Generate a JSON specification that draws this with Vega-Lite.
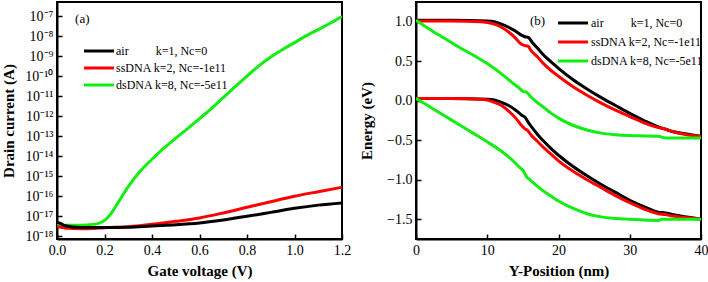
{
  "$schema": "https://vega.github.io/schema/vega-lite/v6.json",
  "padding": {"left": 0, "top": 1, "right": 5, "bottom": 2},
  "spacing": 74,
  "bounds": "flush",
  "resolve": {"scale": {"x": "independent", "y": "independent", "color": "independent"}, "legend": {"color": "independent"}},
  "datasets": {
    "iv": [
      {"V": 0, "I": 3.55e-18, "s": "dsDNA"}, {"V": 0.05, "I": 3.55e-18, "s": "dsDNA"}, {"V": 0.1, "I": 3.6e-18, "s": "dsDNA"},
      {"V": 0.15, "I": 3.98e-18, "s": "dsDNA"}, {"V": 0.175, "I": 4.47e-18, "s": "dsDNA"}, {"V": 0.2, "I": 6.31e-18, "s": "dsDNA"},
      {"V": 0.225, "I": 1.26e-17, "s": "dsDNA"}, {"V": 0.25, "I": 3.55e-17, "s": "dsDNA"}, {"V": 0.275, "I": 1.07e-16, "s": "dsDNA"},
      {"V": 0.3, "I": 3.02e-16, "s": "dsDNA"}, {"V": 0.35, "I": 1.78e-15, "s": "dsDNA"}, {"V": 0.4, "I": 7.08e-15, "s": "dsDNA"},
      {"V": 0.45, "I": 2.51e-14, "s": "dsDNA"}, {"V": 0.5, "I": 7.94e-14, "s": "dsDNA"}, {"V": 0.55, "I": 2.4e-13, "s": "dsDNA"},
      {"V": 0.6, "I": 7.59e-13, "s": "dsDNA"}, {"V": 0.65, "I": 2.4e-12, "s": "dsDNA"}, {"V": 0.7, "I": 8.51e-12, "s": "dsDNA"},
      {"V": 0.75, "I": 2.95e-11, "s": "dsDNA"}, {"V": 0.8, "I": 1.0e-10, "s": "dsDNA"}, {"V": 0.85, "I": 3.24e-10, "s": "dsDNA"},
      {"V": 0.9, "I": 8.91e-10, "s": "dsDNA"}, {"V": 0.95, "I": 2.14e-9, "s": "dsDNA"}, {"V": 1.0, "I": 4.68e-9, "s": "dsDNA"},
      {"V": 1.05, "I": 1.05e-8, "s": "dsDNA"}, {"V": 1.1, "I": 2.09e-8, "s": "dsDNA"}, {"V": 1.15, "I": 4.37e-8, "s": "dsDNA"},
      {"V": 1.2, "I": 9.55e-8, "s": "dsDNA"},
      {"V": 0, "I": 3.16e-18, "s": "ssDNA"}, {"V": 0.05, "I": 2.51e-18, "s": "ssDNA"}, {"V": 0.1, "I": 2.4e-18, "s": "ssDNA"},
      {"V": 0.15, "I": 2.45e-18, "s": "ssDNA"}, {"V": 0.2, "I": 2.69e-18, "s": "ssDNA"}, {"V": 0.3, "I": 3.02e-18, "s": "ssDNA"},
      {"V": 0.4, "I": 3.98e-18, "s": "ssDNA"}, {"V": 0.5, "I": 5.62e-18, "s": "ssDNA"}, {"V": 0.6, "I": 8.32e-18, "s": "ssDNA"},
      {"V": 0.7, "I": 1.48e-17, "s": "ssDNA"}, {"V": 0.8, "I": 2.82e-17, "s": "ssDNA"}, {"V": 0.9, "I": 5.37e-17, "s": "ssDNA"},
      {"V": 1.0, "I": 1e-16, "s": "ssDNA"}, {"V": 1.1, "I": 1.7e-16, "s": "ssDNA"}, {"V": 1.2, "I": 2.82e-16, "s": "ssDNA"},
      {"V": 0, "I": 5.0e-18, "s": "air"}, {"V": 0.015, "I": 4.5e-18, "s": "air"}, {"V": 0.03, "I": 3.5e-18, "s": "air"},
      {"V": 0.1, "I": 2.75e-18, "s": "air"}, {"V": 0.2, "I": 2.75e-18, "s": "air"}, {"V": 0.3, "I": 2.82e-18, "s": "air"},
      {"V": 0.4, "I": 3.31e-18, "s": "air"}, {"V": 0.5, "I": 3.8e-18, "s": "air"}, {"V": 0.6, "I": 4.68e-18, "s": "air"},
      {"V": 0.7, "I": 6.61e-18, "s": "air"}, {"V": 0.8, "I": 1e-17, "s": "air"}, {"V": 0.9, "I": 1.58e-17, "s": "air"},
      {"V": 1.0, "I": 2.51e-17, "s": "air"}, {"V": 1.1, "I": 3.63e-17, "s": "air"}, {"V": 1.2, "I": 4.68e-17, "s": "air"}
    ],
    "band": [
      {"Y": 0, "E": 1.02, "s": "air", "b": "CB"}, {"Y": 5, "E": 1.02, "s": "air", "b": "CB"}, {"Y": 10, "E": 1.01, "s": "air", "b": "CB"},
      {"Y": 11, "E": 1.0, "s": "air", "b": "CB"}, {"Y": 12, "E": 0.97, "s": "air", "b": "CB"}, {"Y": 13, "E": 0.93, "s": "air", "b": "CB"},
      {"Y": 14, "E": 0.88, "s": "air", "b": "CB"}, {"Y": 14.8, "E": 0.83, "s": "air", "b": "CB"}, {"Y": 15.3, "E": 0.81, "s": "air", "b": "CB"},
      {"Y": 15.8, "E": 0.8, "s": "air", "b": "CB"}, {"Y": 16.3, "E": 0.74, "s": "air", "b": "CB"}, {"Y": 17, "E": 0.67, "s": "air", "b": "CB"},
      {"Y": 18, "E": 0.57, "s": "air", "b": "CB"}, {"Y": 19, "E": 0.49, "s": "air", "b": "CB"}, {"Y": 20, "E": 0.41, "s": "air", "b": "CB"},
      {"Y": 22, "E": 0.27, "s": "air", "b": "CB"}, {"Y": 24, "E": 0.15, "s": "air", "b": "CB"}, {"Y": 26, "E": 0.04, "s": "air", "b": "CB"},
      {"Y": 28, "E": -0.06, "s": "air", "b": "CB"}, {"Y": 30, "E": -0.16, "s": "air", "b": "CB"}, {"Y": 32, "E": -0.25, "s": "air", "b": "CB"},
      {"Y": 34, "E": -0.33, "s": "air", "b": "CB"}, {"Y": 35, "E": -0.36, "s": "air", "b": "CB"}, {"Y": 36, "E": -0.39, "s": "air", "b": "CB"},
      {"Y": 38, "E": -0.42, "s": "air", "b": "CB"}, {"Y": 40, "E": -0.45, "s": "air", "b": "CB"},
      {"Y": 0, "E": 0.03, "s": "air", "b": "VB"}, {"Y": 5, "E": 0.03, "s": "air", "b": "VB"}, {"Y": 10, "E": 0.02, "s": "air", "b": "VB"},
      {"Y": 11, "E": 0.01, "s": "air", "b": "VB"}, {"Y": 12, "E": -0.02, "s": "air", "b": "VB"}, {"Y": 13, "E": -0.06, "s": "air", "b": "VB"},
      {"Y": 14, "E": -0.12, "s": "air", "b": "VB"}, {"Y": 14.8, "E": -0.18, "s": "air", "b": "VB"}, {"Y": 15.3, "E": -0.21, "s": "air", "b": "VB"},
      {"Y": 15.8, "E": -0.28, "s": "air", "b": "VB"}, {"Y": 16.3, "E": -0.34, "s": "air", "b": "VB"}, {"Y": 17, "E": -0.42, "s": "air", "b": "VB"},
      {"Y": 18, "E": -0.52, "s": "air", "b": "VB"}, {"Y": 19, "E": -0.61, "s": "air", "b": "VB"}, {"Y": 20, "E": -0.69, "s": "air", "b": "VB"},
      {"Y": 22, "E": -0.83, "s": "air", "b": "VB"}, {"Y": 24, "E": -0.95, "s": "air", "b": "VB"}, {"Y": 26, "E": -1.06, "s": "air", "b": "VB"},
      {"Y": 28, "E": -1.16, "s": "air", "b": "VB"}, {"Y": 30, "E": -1.26, "s": "air", "b": "VB"}, {"Y": 32, "E": -1.34, "s": "air", "b": "VB"},
      {"Y": 34, "E": -1.41, "s": "air", "b": "VB"}, {"Y": 35, "E": -1.42, "s": "air", "b": "VB"}, {"Y": 36, "E": -1.44, "s": "air", "b": "VB"},
      {"Y": 38, "E": -1.47, "s": "air", "b": "VB"}, {"Y": 40, "E": -1.5, "s": "air", "b": "VB"},
      {"Y": 0, "E": 1.01, "s": "ssDNA", "b": "CB"}, {"Y": 5, "E": 1.01, "s": "ssDNA", "b": "CB"}, {"Y": 9, "E": 1.0, "s": "ssDNA", "b": "CB"},
      {"Y": 10, "E": 0.99, "s": "ssDNA", "b": "CB"}, {"Y": 11, "E": 0.97, "s": "ssDNA", "b": "CB"}, {"Y": 12, "E": 0.93, "s": "ssDNA", "b": "CB"},
      {"Y": 13, "E": 0.87, "s": "ssDNA", "b": "CB"}, {"Y": 14, "E": 0.79, "s": "ssDNA", "b": "CB"}, {"Y": 14.6, "E": 0.73, "s": "ssDNA", "b": "CB"},
      {"Y": 15.2, "E": 0.7, "s": "ssDNA", "b": "CB"}, {"Y": 15.7, "E": 0.69, "s": "ssDNA", "b": "CB"}, {"Y": 16.2, "E": 0.63, "s": "ssDNA", "b": "CB"},
      {"Y": 17, "E": 0.56, "s": "ssDNA", "b": "CB"}, {"Y": 18, "E": 0.46, "s": "ssDNA", "b": "CB"}, {"Y": 19, "E": 0.38, "s": "ssDNA", "b": "CB"},
      {"Y": 20, "E": 0.31, "s": "ssDNA", "b": "CB"}, {"Y": 22, "E": 0.18, "s": "ssDNA", "b": "CB"}, {"Y": 24, "E": 0.07, "s": "ssDNA", "b": "CB"},
      {"Y": 26, "E": -0.03, "s": "ssDNA", "b": "CB"}, {"Y": 28, "E": -0.12, "s": "ssDNA", "b": "CB"}, {"Y": 30, "E": -0.2, "s": "ssDNA", "b": "CB"},
      {"Y": 32, "E": -0.28, "s": "ssDNA", "b": "CB"}, {"Y": 34, "E": -0.34, "s": "ssDNA", "b": "CB"}, {"Y": 35, "E": -0.36, "s": "ssDNA", "b": "CB"},
      {"Y": 36, "E": -0.39, "s": "ssDNA", "b": "CB"}, {"Y": 38, "E": -0.43, "s": "ssDNA", "b": "CB"}, {"Y": 40, "E": -0.45, "s": "ssDNA", "b": "CB"},
      {"Y": 0, "E": 0.03, "s": "ssDNA", "b": "VB"}, {"Y": 5, "E": 0.03, "s": "ssDNA", "b": "VB"}, {"Y": 9, "E": 0.02, "s": "ssDNA", "b": "VB"},
      {"Y": 10, "E": 0.01, "s": "ssDNA", "b": "VB"}, {"Y": 11, "E": -0.02, "s": "ssDNA", "b": "VB"}, {"Y": 12, "E": -0.06, "s": "ssDNA", "b": "VB"},
      {"Y": 13, "E": -0.13, "s": "ssDNA", "b": "VB"}, {"Y": 14, "E": -0.22, "s": "ssDNA", "b": "VB"}, {"Y": 14.6, "E": -0.29, "s": "ssDNA", "b": "VB"},
      {"Y": 15.2, "E": -0.35, "s": "ssDNA", "b": "VB"}, {"Y": 15.7, "E": -0.38, "s": "ssDNA", "b": "VB"}, {"Y": 16.2, "E": -0.44, "s": "ssDNA", "b": "VB"},
      {"Y": 17, "E": -0.51, "s": "ssDNA", "b": "VB"}, {"Y": 18, "E": -0.6, "s": "ssDNA", "b": "VB"}, {"Y": 19, "E": -0.68, "s": "ssDNA", "b": "VB"},
      {"Y": 20, "E": -0.76, "s": "ssDNA", "b": "VB"}, {"Y": 22, "E": -0.89, "s": "ssDNA", "b": "VB"}, {"Y": 24, "E": -1.0, "s": "ssDNA", "b": "VB"},
      {"Y": 26, "E": -1.1, "s": "ssDNA", "b": "VB"}, {"Y": 28, "E": -1.2, "s": "ssDNA", "b": "VB"}, {"Y": 30, "E": -1.29, "s": "ssDNA", "b": "VB"},
      {"Y": 32, "E": -1.37, "s": "ssDNA", "b": "VB"}, {"Y": 34, "E": -1.43, "s": "ssDNA", "b": "VB"}, {"Y": 35, "E": -1.44, "s": "ssDNA", "b": "VB"},
      {"Y": 36, "E": -1.46, "s": "ssDNA", "b": "VB"}, {"Y": 38, "E": -1.48, "s": "ssDNA", "b": "VB"}, {"Y": 40, "E": -1.5, "s": "ssDNA", "b": "VB"},
      {"Y": 0, "E": 1.02, "s": "dsDNA", "b": "CB"}, {"Y": 2, "E": 0.9, "s": "dsDNA", "b": "CB"}, {"Y": 4, "E": 0.79, "s": "dsDNA", "b": "CB"},
      {"Y": 6, "E": 0.68, "s": "dsDNA", "b": "CB"}, {"Y": 8, "E": 0.58, "s": "dsDNA", "b": "CB"}, {"Y": 10, "E": 0.47, "s": "dsDNA", "b": "CB"},
      {"Y": 12, "E": 0.34, "s": "dsDNA", "b": "CB"}, {"Y": 13.5, "E": 0.23, "s": "dsDNA", "b": "CB"}, {"Y": 14.5, "E": 0.16, "s": "dsDNA", "b": "CB"},
      {"Y": 15, "E": 0.12, "s": "dsDNA", "b": "CB"}, {"Y": 15.5, "E": 0.11, "s": "dsDNA", "b": "CB"}, {"Y": 16, "E": 0.06, "s": "dsDNA", "b": "CB"},
      {"Y": 17, "E": -0.02, "s": "dsDNA", "b": "CB"}, {"Y": 18, "E": -0.09, "s": "dsDNA", "b": "CB"}, {"Y": 19, "E": -0.16, "s": "dsDNA", "b": "CB"},
      {"Y": 20, "E": -0.22, "s": "dsDNA", "b": "CB"}, {"Y": 22, "E": -0.31, "s": "dsDNA", "b": "CB"}, {"Y": 24, "E": -0.37, "s": "dsDNA", "b": "CB"},
      {"Y": 26, "E": -0.41, "s": "dsDNA", "b": "CB"}, {"Y": 28, "E": -0.43, "s": "dsDNA", "b": "CB"}, {"Y": 30, "E": -0.44, "s": "dsDNA", "b": "CB"},
      {"Y": 32, "E": -0.445, "s": "dsDNA", "b": "CB"}, {"Y": 34, "E": -0.45, "s": "dsDNA", "b": "CB"}, {"Y": 35, "E": -0.47, "s": "dsDNA", "b": "CB"},
      {"Y": 36, "E": -0.47, "s": "dsDNA", "b": "CB"}, {"Y": 38, "E": -0.47, "s": "dsDNA", "b": "CB"}, {"Y": 40, "E": -0.47, "s": "dsDNA", "b": "CB"},
      {"Y": 0, "E": 0.03, "s": "dsDNA", "b": "VB"}, {"Y": 2, "E": -0.08, "s": "dsDNA", "b": "VB"}, {"Y": 4, "E": -0.19, "s": "dsDNA", "b": "VB"},
      {"Y": 6, "E": -0.3, "s": "dsDNA", "b": "VB"}, {"Y": 8, "E": -0.41, "s": "dsDNA", "b": "VB"}, {"Y": 10, "E": -0.52, "s": "dsDNA", "b": "VB"},
      {"Y": 12, "E": -0.64, "s": "dsDNA", "b": "VB"}, {"Y": 13.5, "E": -0.75, "s": "dsDNA", "b": "VB"}, {"Y": 14.5, "E": -0.84, "s": "dsDNA", "b": "VB"},
      {"Y": 15, "E": -0.88, "s": "dsDNA", "b": "VB"}, {"Y": 15.5, "E": -0.96, "s": "dsDNA", "b": "VB"}, {"Y": 16, "E": -1.0, "s": "dsDNA", "b": "VB"},
      {"Y": 17, "E": -1.08, "s": "dsDNA", "b": "VB"}, {"Y": 18, "E": -1.15, "s": "dsDNA", "b": "VB"}, {"Y": 19, "E": -1.21, "s": "dsDNA", "b": "VB"},
      {"Y": 20, "E": -1.27, "s": "dsDNA", "b": "VB"}, {"Y": 22, "E": -1.36, "s": "dsDNA", "b": "VB"}, {"Y": 24, "E": -1.43, "s": "dsDNA", "b": "VB"},
      {"Y": 26, "E": -1.47, "s": "dsDNA", "b": "VB"}, {"Y": 28, "E": -1.49, "s": "dsDNA", "b": "VB"}, {"Y": 30, "E": -1.5, "s": "dsDNA", "b": "VB"},
      {"Y": 32, "E": -1.51, "s": "dsDNA", "b": "VB"}, {"Y": 34, "E": -1.515, "s": "dsDNA", "b": "VB"}, {"Y": 34.5, "E": -1.5, "s": "dsDNA", "b": "VB"},
      {"Y": 36, "E": -1.5, "s": "dsDNA", "b": "VB"}, {"Y": 38, "E": -1.5, "s": "dsDNA", "b": "VB"}, {"Y": 40, "E": -1.5, "s": "dsDNA", "b": "VB"}
    ]
  },
  "hconcat": [
    {
      "width": 285,
      "height": 237,
      "layer": [
        {
          "data": {"name": "iv"},
          "mark": {"type": "line", "strokeWidth": 3, "interpolate": "monotone", "clip": true},
          "encoding": {
            "x": {"field": "V", "type": "quantitative", "scale": {"domain": [0, 1.2], "nice": false},
              "axis": {"title": "Gate voltage (V)", "values": [0, 0.2, 0.4, 0.6, 0.8, 1.0, 1.2], "format": ".1f"}},
            "y": {"field": "I", "type": "quantitative", "scale": {"type": "log", "domain": [7.4e-19, 5e-7], "nice": false},
              "axis": {"title": "Drain current (A)", "titlePadding": 8, "values": [1e-18, 1e-17, 1e-16, 1e-15, 1e-14, 1e-13, 1e-12, 1e-11, 1e-10, 1e-9, 1e-8, 1e-7],
                "labelExpr": "'10⁻' + (round(-log(datum.value)/LN10) >= 10 ? '¹' : '') + ['⁰','¹','²','³','⁴','⁵','⁶','⁷','⁸','⁹'][round(-log(datum.value)/LN10) % 10]"}},
            "color": {"field": "s", "type": "nominal",
              "scale": {"domain": ["air", "ssDNA", "dsDNA"], "range": ["#000000", "#ff0000", "#11ee11"]},
              "legend": {"orient": "none", "legendX": 33, "legendY": 40, "title": null, "symbolType": "M-2,0H2", "symbolSize": 225,
                "symbolStrokeWidth": 3, "labelOffset": 8, "rowPadding": 2,
                "labelExpr": "datum.label == 'air' ? 'air\u00a0\u00a0\u00a0\u00a0\u00a0\u00a0\u00a0\u00a0\u00a0k=1, Nc=0' : datum.label == 'ssDNA' ? 'ssDNA k=2, Nc=-1e11' : 'dsDNA k=8, Nc=-5e11'"}}
          }
        },
        {
          "data": {"values": [{}]},
          "mark": {"type": "text", "align": "left", "baseline": "middle", "font": "Liberation Serif", "fontSize": 13, "color": "black"},
          "encoding": {"x": {"datum": 0.076}, "y": {"datum": 7.1e-8}, "text": {"value": "(a)"}}
        }
      ]
    },
    {
      "width": 285,
      "height": 237,
      "layer": [
        {
          "data": {"name": "band"},
          "mark": {"type": "line", "strokeWidth": 3, "interpolate": "monotone", "clip": true},
          "encoding": {
            "x": {"field": "Y", "type": "quantitative", "scale": {"domain": [0, 40], "nice": false},
              "axis": {"title": "Y-Position (nm)", "values": [0, 10, 20, 30, 40]}},
            "y": {"field": "E", "type": "quantitative", "scale": {"domain": [-1.75, 1.25], "nice": false},
              "axis": {"title": "Energy (eV)", "titlePadding": 12, "values": [-1.5, -1.0, -0.5, 0.0, 0.5, 1.0], "format": ".1f"}},
            "detail": {"field": "b"},
            "color": {"field": "s", "type": "nominal",
              "scale": {"domain": ["air", "ssDNA", "dsDNA"], "range": ["#000000", "#ff0000", "#11ee11"]},
              "legend": {"orient": "none", "legendX": 148, "legendY": 12, "title": null, "symbolType": "M-2,0H2", "symbolSize": 225,
                "symbolStrokeWidth": 3, "labelOffset": 9, "rowPadding": 4,
                "labelExpr": "datum.label == 'air' ? 'air\u00a0\u00a0\u00a0\u00a0\u00a0\u00a0\u00a0\u00a0\u00a0k=1, Nc=0' : datum.label == 'ssDNA' ? 'ssDNA k=2, Nc=-1e11' : 'dsDNA k=8, Nc=-5e11'"}}
          }
        },
        {
          "data": {"values": [{}]},
          "mark": {"type": "text", "align": "left", "baseline": "middle", "font": "Liberation Serif", "fontSize": 13, "color": "black"},
          "encoding": {"x": {"datum": 16.0}, "y": {"datum": 1.013}, "text": {"value": "(b)"}}
        }
      ]
    }
  ],
  "config": {
    "view": {"stroke": "black", "strokeWidth": 2},
    "axis": {
      "labelFont": "Liberation Serif", "labelFontSize": 14, "labelColor": "black",
      "titleFont": "Liberation Serif", "titleFontSize": 15, "titleFontWeight": "bold", "titleColor": "black",
      "domainColor": "black", "domainWidth": 2, "tickColor": "black", "tickWidth": 1.5, "tickSize": -5,
      "labelPadding": 9, "titlePadding": 6, "grid": false, "labelFlush": false, "labelOverlap": false
    },
    "legend": {"labelFont": "Liberation Serif", "labelFontSize": 12, "labelColor": "black", "padding": 0}
  }
}
